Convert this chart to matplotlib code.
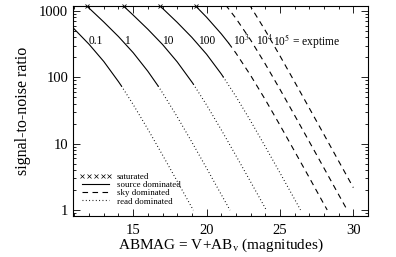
import matplotlib
matplotlib.use("Agg")
from matplotlib import pyplot as plt
from matplotlib.lines import Line2D

plt.rcParams['font.family'] = ['Liberation Serif', 'DejaVu Serif']
plt.rcParams['mathtext.fontset'] = 'stix'

# exposure times and their labels
exptimes = ['0.1', '1', '10', '100', '10$^3$', '10$^4$', '10$^5$ = exptime']
label_mag = [11.95, 14.4, 16.95, 19.45, 21.8, 23.4, 24.55]

# source dominated (solid) parts: ABMAG, S/N
src_mag = [
    [10.9, 12, 13, 14, 14.2],
    [11.8, 12, 13, 14, 15, 16, 16.7],
    [14.3, 15, 16, 17, 18, 19, 19.1],
    [16.8, 17, 18, 19, 20, 21, 21.13],
    [19.3, 20, 21, 21.5],
]
src_snr = [
    [560, 314, 173, 86, 74],
    [1211, 1102, 682, 411.5, 235.4, 123.4, 74],
    [1211, 868, 531, 313, 171, 85, 79],
    [1207, 1097, 674, 400, 223, 112.6, 102],
    [1163, 807, 453, 329],
]

# read dominated (dotted) parts
read_mag = [
    [14.2, 15, 16, 17, 18, 19, 19.1],
    [16.7, 17, 18, 19, 20, 21, 21.6],
    [19.1, 20, 21, 22, 23, 24, 24.07],
    [21.13, 22, 23, 24, 25, 26, 26.4],
]
read_snr = [
    [74, 38.9, 16.5, 6.74, 2.71, 1.085, 0.99],
    [74, 58.4, 25.4, 10.55, 4.27, 1.71, 0.99],
    [79, 38.3, 16.2, 6.61, 2.66, 1.064, 0.99],
    [102, 51.5, 22.0, 9.02, 3.63, 1.45, 1.0],
]

# sky dominated (dashed) parts
sky_mag = [
    [21.5, 22, 23, 24, 25, 26, 27, 28, 28.22],
    [21.3, 22, 23, 24, 25, 26, 27, 28, 29, 29.58],
    [22.9, 23, 24, 25, 26, 27, 28, 29, 30],
]
sky_snr = [
    [329, 232, 107, 46.1, 19.0, 7.66, 3.07, 1.22, 1.0],
    [1232, 775, 366, 159, 66, 26.7, 10.7, 4.28, 1.70, 1.0],
    [1263, 1167, 509, 211, 85.4, 34.3, 13.7, 5.45, 2.17],
]

# saturated points along the top
sat_mag = [11.86, 14.36, 16.86, 19.3]
sat_snr = [1190, 1190, 1190, 1190]

fig = plt.figure(figsize=(3.96, 2.57), dpi=100)
ax = fig.add_axes([0.1843, 0.1595, 0.745, 0.8172])

lw = 0.8
for m, s in zip(src_mag, src_snr):
    ax.plot(m, s, '-', color='k', lw=lw)
for m, s in zip(read_mag, read_snr):
    ax.plot(m, s, color='k', lw=lw, dashes=(0.8, 2.2))
for m, s in zip(sky_mag, sky_snr):
    ax.plot(m, s, color='k', lw=lw, dashes=(5, 4))
ax.plot(sat_mag, sat_snr, 'x', color='k', ms=3, mew=0.6, clip_on=False)

for lab, m in zip(exptimes, label_mag):
    ax.text(m, 354, lab, fontsize=8.3, ha='left', va='center')

ax.set_yscale('log')
ax.set_xlim(10.9, 31.0)
ax.set_ylim(0.81, 1190)
ax.set_xticks([15, 20, 25, 30])
ax.set_xticks(range(11, 32), minor=True)
ax.set_yticks([1, 10, 100, 1000])
ax.set_yticklabels(['1', '10', '100', '1000'])
ax.tick_params(which='both', direction='in', top=True, right=True,
               labelsize=10.5, width=0.6)
ax.tick_params(which='major', length=5)
ax.tick_params(which='minor', length=2.5)
ax.tick_params(axis='x', pad=6)
ax.tick_params(axis='y', pad=3.5)
for sp in ax.spines.values():
    sp.set_linewidth(0.8)

ax.set_xlabel('ABMAG = V+AB$_{\\mathrm{v}}$ (magnitudes)', fontsize=11, labelpad=-0.5)
ax.set_ylabel('signal-to-noise ratio', fontsize=11.5, labelpad=6)

handles = [
    Line2D([], [], ls='none', marker='x', color='k', ms=2.5, mew=0.5),
    Line2D([], [], ls='-', color='k', lw=lw),
    Line2D([], [], color='k', lw=lw, dashes=(5, 4)),
    Line2D([], [], color='k', lw=lw, dashes=(0.8, 2.2)),
]
labels = ['saturated', 'source dominated', 'sky dominated', 'read dominated']
ax.legend(handles, labels, loc='lower left', frameon=False, fontsize=6.4,
          numpoints=5, handlelength=3.7, handletextpad=0.5,
          labelspacing=0.0, borderaxespad=0.3, bbox_to_anchor=(0.0, 0.02))

fig.savefig('out.png', dpi=100)
